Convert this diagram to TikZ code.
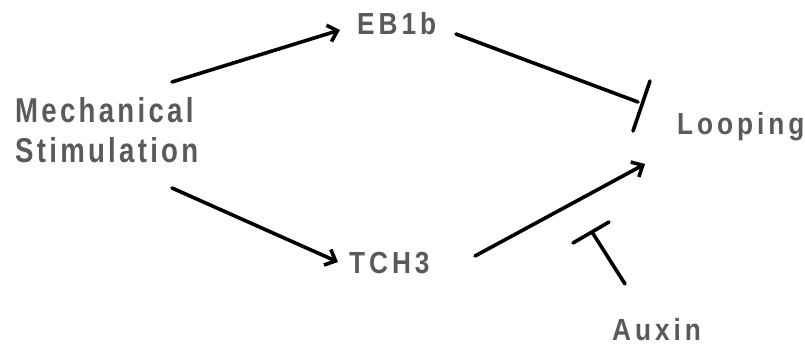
\documentclass[tikz,border=0pt]{standalone}
\usepackage{fontspec}
\setmainfont{Liberation Sans}
\usetikzlibrary{arrows.meta}
\definecolor{labelgray}{HTML}{5A5A5A}
\newfontfamily\bigfont[FakeStretch=0.80,LetterSpace=9.5,UprightFont={* Bold}]{Liberation Sans}
\newfontfamily\smallfont[FakeStretch=0.86,LetterSpace=13,UprightFont={* Bold}]{Liberation Sans}
\begin{document}
\begin{tikzpicture}[x=1pt,y=-1pt,
    lbl/.style={inner sep=0pt,anchor=base west,text=labelgray},
    bigl/.style={lbl,font=\bigfont\fontsize{34.5}{40}\selectfont},
    smalll/.style={lbl,font=\smallfont\fontsize{30.5}{36}\selectfont},
    link/.style={line width=3.6pt,line cap=round},
    promote/.style={link,-{Straight Barb[length=9pt,width=17pt,line width=3.6pt]}}]
  \useasboundingbox (0,0) rectangle (805,345);
  % labels
  \node[bigl] (mech) at (15,122) {Mechanical};
  \node[bigl] (stim) at (15,162) {Stimulation};
  \node[smalll] (eb1b) at (357,35) {EB1b};
  \node[smalll] (tch3) at (349,273) {TCH3};
  \node[smalll] (loop) at (677,134) {Looping};
  \node[smalll] (auxin) at (612,340) {Auxin};
  % connector end points
  \coordinate (mA) at (172,82);
  \coordinate (eA) at (340,30);
  \coordinate (mB) at (172,188);
  \coordinate (tB) at (338,262);
  \coordinate (eC) at (456,34);
  \coordinate (lC) at (638,102);
  \coordinate (barC1) at (650,81);
  \coordinate (barC2) at (633,131);
  \coordinate (tD) at (475,256);
  \coordinate (lD) at (645,164);
  \coordinate (aE) at (625,284);
  \coordinate (lE) at (592,232);
  \coordinate (barE1) at (573,243);
  \coordinate (barE2) at (609,222);
  % activations
  \draw[promote] (mA) -- (eA);
  \draw[promote] (mB) -- (tB);
  \draw[promote] (tD) -- (lD);
  % inhibitions
  \draw[link] (eC) -- (lC);
  \draw[link] (barC1) -- (barC2);
  \draw[link] (aE) -- (lE);
  \draw[link] (barE1) -- (barE2);
\end{tikzpicture}
\end{document}
